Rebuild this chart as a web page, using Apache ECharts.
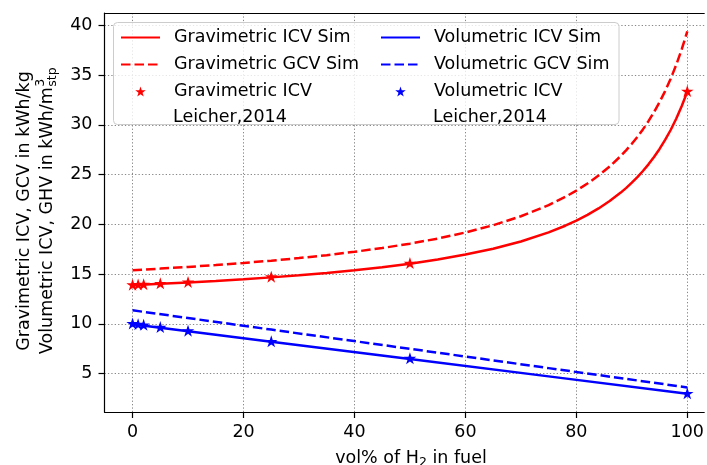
<!DOCTYPE html>
<html><head><meta charset="utf-8">
<script src="https://cdn.jsdelivr.net/npm/echarts@6/dist/echarts.min.js"></script>
<style>html,body{margin:0;padding:0;background:#fff;overflow:hidden}#c{width:707px;height:465px}</style>
</head><body><div id="c"></div>
<script>
// ---- data ----
const simX        = [0, 5, 10, 15, 20, 25, 30, 35, 40, 45, 50, 55, 60, 65, 70, 75, 78, 80, 82, 84, 86, 88, 89, 90, 91, 92, 93, 94, 95, 96, 97, 98, 99, 100];
const gravIcvSim  = [13.90, 14.03, 14.17, 14.32, 14.49, 14.68, 14.89, 15.13, 15.40, 15.70, 16.06, 16.48, 16.97, 17.56, 18.29, 19.20, 19.87, 20.38, 20.96, 21.61, 22.35, 23.20, 23.68, 24.20, 24.75, 25.37, 26.04, 26.78, 27.59, 28.49, 29.49, 30.62, 31.90, 33.35];
const gravGcvSim  = [15.40, 15.56, 15.73, 15.92, 16.13, 16.36, 16.62, 16.91, 17.25, 17.63, 18.07, 18.58, 19.19, 19.92, 20.82, 21.94, 22.77, 23.40, 24.11, 24.91, 25.82, 26.88, 27.47, 28.11, 28.79, 29.55, 30.38, 31.29, 32.29, 33.40, 34.64, 36.03, 37.61, 39.40];
const volX        = [0, 25, 50, 75, 100];
const volIcvSim   = [9.97, 8.22, 6.48, 4.73, 2.98];
const volGcvSim   = [11.37, 9.43, 7.50, 5.56, 3.62];
const expX        = [0, 1, 2, 5, 10, 25, 50, 100];
const gravIcvExp  = [13.90, 13.92, 13.95, 14.03, 14.17, 14.70, 16.07, 33.35];
const volIcvExp   = [10.00, 9.93, 9.86, 9.63, 9.27, 8.20, 6.50, 2.98];
const xTicks      = [0, 20, 40, 60, 80, 100];
const yTicks      = [5, 10, 15, 20, 25, 30, 35, 40];
const seriesNames = ['Gravimetric ICV Sim', 'Gravimetric GCV Sim', 'Gravimetric ICV Leicher,2014',
                     'Volumetric ICV Sim', 'Volumetric GCV Sim', 'Volumetric ICV Leicher,2014'];

const zip = (xs, ys) => xs.map((x, i) => [x, ys[i]]);
const FONT = 'DejaVu Sans';
const FS = 17.5, FSS = 12.5;
const RED = '#ff0000', BLUE = '#0000ff';
const STAR = 'path://M0,-100 L22.45,-30.9 L95.11,-30.9 L36.33,11.8 L58.78,80.9 L0,38.2 L-58.78,80.9 L-36.33,11.8 L-95.11,-30.9 L-22.45,-30.9 Z';
const DASH = [9.5, 4];
const X_MIN = -5.06, X_MAX = 103.05;   // visible x range (plot continues past the right edge)
const Y_MIN = 1.15, Y_MAX = 41.25;

const ctx = document.createElement('canvas').getContext('2d');
function tw(s, size) { ctx.font = size + 'px "' + FONT + '"'; return ctx.measureText(s).width; }

const chart = echarts.init(document.getElementById('c'), null, {renderer: 'canvas'});

function lineSeries(name, data, color, dashed) {
  return {name, type: 'line', data, symbol: 'none', showSymbol: false, clip: true, z: 2,
    lineStyle: {color, width: 2.5, type: dashed ? DASH : 'solid', cap: 'butt'}, itemStyle: {color},
    emphasis: {disabled: true}, animation: false};
}
function starSeries(name, data, color) {
  return {name, type: 'scatter', data, symbol: STAR, symbolSize: [12.5, 12], symbolOffset: [0, -0.5], z: 3,
    itemStyle: {color, opacity: 1}, emphasis: {disabled: true}, animation: false};
}

const legendText = {fontFamily: FONT, fontSize: FS, lineHeight: 19, color: '#000', padding: [0, 0, 0, 9]};
function legendCfg(left, names) {
  return {orient: 'vertical', left, top: 28, padding: 0, itemWidth: 39, itemHeight: 10, itemGap: 8,
    selectedMode: false, z: 6, textStyle: legendText,
    formatter: n => n.replace(' Leicher,2014', ''),
    data: [{name: names[0], itemStyle: {opacity: 0}}, {name: names[1], itemStyle: {opacity: 0}}, {name: names[2], icon: STAR}]};
}

// y-axis title pieces
const yl2 = 'Volumetric ICV, GHV in kWh/m';
const W2 = tw(yl2, FS), Ws = tw('stp', FSS);
const y2start = -(W2 + Ws) / 2;
// x-axis title pieces
const xa = 'vol% of H', xb = '2', xc = ' in fuel';
const Wa = tw(xa, FS), Wb = tw(xb, FSS), Wc = tw(xc, FS);
const xstart = 411 - (Wa + Wb + Wc) / 2;
const ts = (size) => ({fontFamily: FONT, fontSize: size, fill: '#000'});
const spine = {show: true, onZero: false, lineStyle: {color: '#000', width: 1.2}};
const grid = {lineStyle: {color: '#888', width: 1, type: [1.3, 2.1]}};

chart.setOption({
  animation: false,
  backgroundColor: '#fff',
  grid: {left: 104.5, right: 0, top: 13, bottom: 53, show: false},
  xAxis: [
    {type: 'value', min: X_MIN, max: X_MAX, position: 'bottom',
      axisLine: spine,
      axisTick: {show: true, length: 6, lineStyle: {color: '#000', width: 1.2}, customValues: xTicks},
      axisLabel: {show: true, margin: 11, fontFamily: FONT, fontSize: FS, color: '#000', customValues: xTicks},
      splitLine: Object.assign({show: true}, grid)},
    {type: 'value', min: X_MIN, max: X_MAX, position: 'top',
      axisLine: spine, axisTick: {show: false}, axisLabel: {show: false}, splitLine: {show: false}}
  ],
  yAxis: {type: 'value', min: Y_MIN, max: Y_MAX,
    axisLine: spine,
    axisTick: {show: true, length: 6, lineStyle: {color: '#000', width: 1.2}, customValues: yTicks},
    axisLabel: {show: true, margin: 12, fontFamily: FONT, fontSize: FS, color: '#000', customValues: yTicks},
    splitLine: Object.assign({show: true}, grid)},
  legend: [legendCfg(120, seriesNames.slice(0, 3)), legendCfg(380, seriesNames.slice(3, 6))],
  graphic: [
    {type: 'rect', z: 5, shape: {x: 113.5, y: 22.5, width: 505.5, height: 102, r: 4},
     style: {fill: 'rgba(255,255,255,0.8)', stroke: '#cccccc', lineWidth: 1}},
    {type: 'text', z: 7, x: 173, y: 117.5, style: Object.assign(ts(FS), {text: 'Leicher,2014', verticalAlign: 'middle'})},
    {type: 'text', z: 7, x: 433, y: 117.5, style: Object.assign(ts(FS), {text: 'Leicher,2014', verticalAlign: 'middle'})},
    {type: 'group', x: 36, y: 211, rotation: Math.PI / 2, children: [
      {type: 'text', x: 0, y: -11.5, style: Object.assign(ts(FS), {text: 'Gravimetric ICV, GCV in kWh/kg', align: 'center', verticalAlign: 'middle'})},
      {type: 'text', x: y2start, y: 11.5, style: Object.assign(ts(FS), {text: yl2, align: 'left', verticalAlign: 'middle'})},
      {type: 'text', x: y2start + W2 + 0.5, y: 11.5 - 7, style: Object.assign(ts(FSS), {text: '3', align: 'left', verticalAlign: 'middle'})},
      {type: 'text', x: y2start + W2 + 0.5, y: 11.5 + 5, style: Object.assign(ts(FSS), {text: 'stp', align: 'left', verticalAlign: 'middle'})}
    ]},
    {type: 'text', x: xstart, y: 458, style: Object.assign(ts(FS), {text: xa, align: 'left', verticalAlign: 'middle'})},
    {type: 'text', x: xstart + Wa, y: 462.5, style: Object.assign(ts(FSS), {text: xb, align: 'left', verticalAlign: 'middle'})},
    {type: 'text', x: xstart + Wa + Wb, y: 458, style: Object.assign(ts(FS), {text: xc, align: 'left', verticalAlign: 'middle'})}
  ],
  series: [
    lineSeries(seriesNames[0], zip(simX, gravIcvSim), RED, false),
    lineSeries(seriesNames[1], zip(simX, gravGcvSim), RED, true),
    starSeries(seriesNames[2], zip(expX, gravIcvExp), RED),
    lineSeries(seriesNames[3], zip(volX, volIcvSim), BLUE, false),
    lineSeries(seriesNames[4], zip(volX, volGcvSim), BLUE, true),
    starSeries(seriesNames[5], zip(expX, volIcvExp), BLUE)
  ]
});
</script></body></html>
